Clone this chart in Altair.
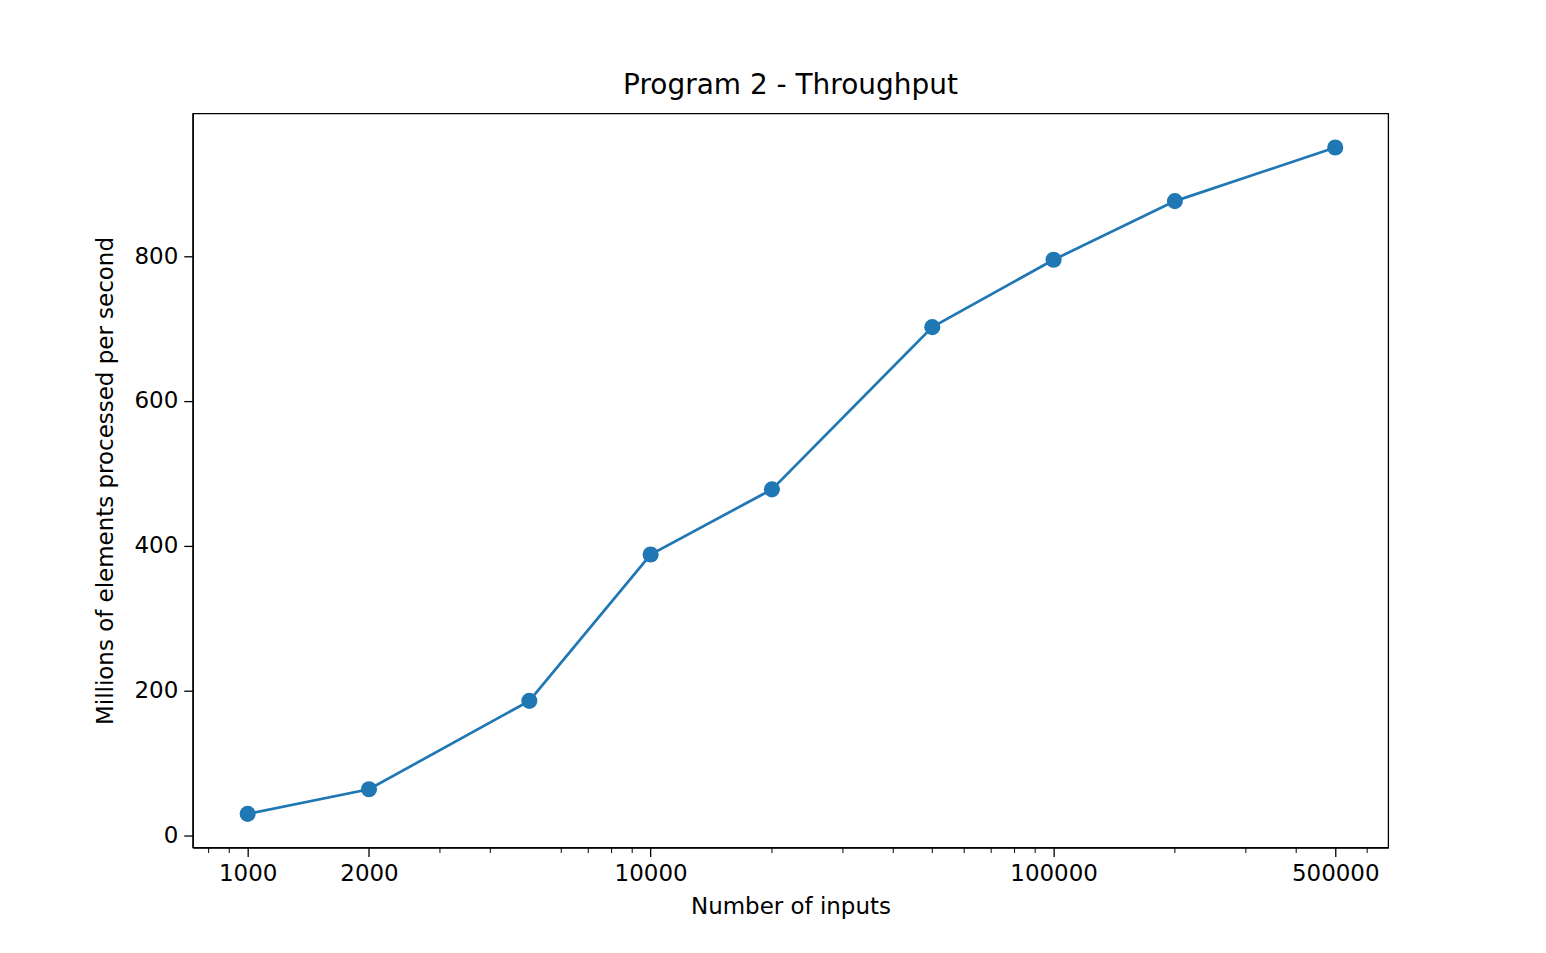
import altair as alt
import pandas as pd

inputs = [1000, 2000, 5000, 10000, 20000, 50000, 100000, 200000, 500000]
throughput = [30, 64, 186, 388, 478, 702, 795, 876, 950]
x_labels = [1000, 2000, 10000, 100000, 500000]
minor = [800, 900, 3000, 4000, 6000, 7000, 8000, 9000, 20000, 30000, 40000, 50000,
         60000, 70000, 80000, 90000, 200000, 300000, 400000, 600000]

df = pd.DataFrame({"n": inputs, "t": throughput})
mdf = pd.DataFrame({"n": minor})

W, H = 1197, 735
xs = alt.Scale(type="log", domain=[730.6, 676700], nice=False)
ys = alt.Scale(domain=[-16.5, 997], nice=False, zero=False)
F = "DejaVu Sans"
LS = 23

base = alt.Chart(df)
line = base.mark_line(color="#1f77b4", strokeWidth=2.7).encode(
    x=alt.X("n:Q", scale=xs, title="Number of inputs",
            axis=alt.Axis(values=x_labels, format="d", labelFontSize=LS, titleFontSize=LS,
                          labelFont=F, titleFont=F, labelColor="black", titleColor="black",
                          titleFontWeight="normal", domainColor="black", tickColor="black",
                          tickSize=9, tickWidth=1.3, domainWidth=1.3, grid=False,
                          labelPadding=6, titlePadding=10, labelFlush=False)),
    y=alt.Y("t:Q", scale=ys, title="Millions of elements processed per second",
            axis=alt.Axis(values=[0, 200, 400, 600, 800], labelFontSize=LS, titleFontSize=LS,
                          labelFont=F, titleFont=F, labelColor="black", titleColor="black",
                          titleFontWeight="normal", domainColor="black", tickColor="black",
                          tickSize=9, tickWidth=1.3, domainWidth=1.3, grid=False,
                          labelPadding=6, titlePadding=16)),
)
pts = base.mark_circle(color="#1f77b4", size=260, opacity=1).encode(x=alt.X("n:Q", scale=xs), y=alt.Y("t:Q", scale=ys))
mticks = alt.Chart(mdf).mark_rule(color="black", strokeWidth=1).encode(
    x=alt.X("n:Q", scale=xs), y=alt.value(H), y2=alt.value(H + 5.5))

chart = alt.layer(line, pts, mticks).properties(
    width=W, height=H,
    title=alt.TitleParams("Program 2 - Throughput", fontSize=28, font=F, fontWeight="normal",
                          color="black", offset=14),
    autosize=alt.AutoSizeParams(type="none"),
    padding={"left": 185, "top": 105, "right": 150, "bottom": 100},
    background="white",
).configure_view(stroke="black", strokeWidth=1.3, strokeOpacity=1)

chart.save("out.html", embed_options={"renderer": "svg", "actions": False})
